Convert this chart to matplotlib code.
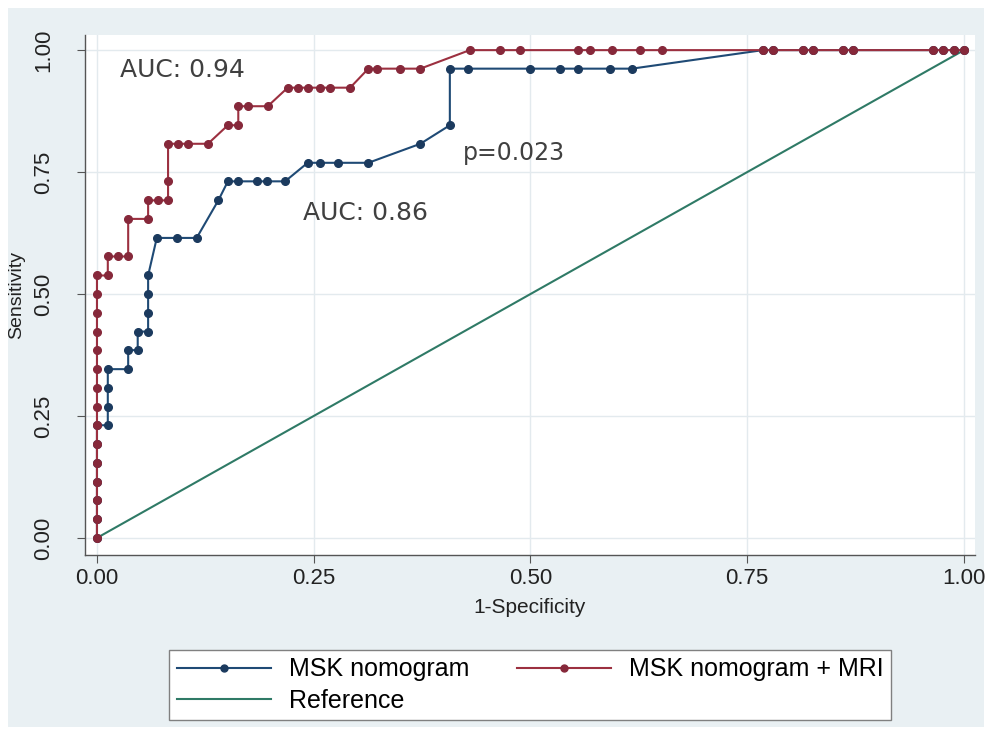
import numpy as np
import matplotlib
matplotlib.use('Agg')
import matplotlib.pyplot as plt
from matplotlib.lines import Line2D
from matplotlib.patches import Rectangle

# -------------------------------------------
# ROC points

fpr_msk = [0, 0, 0, 0, 0, 0, 0, 0.0125, 0.0125, 0.0125, 0.0125, 0.036, 0.036,
           0.047, 0.047, 0.059, 0.059, 0.059, 0.059, 0.069, 0.092, 0.115, 0.14,
           0.151, 0.163, 0.185, 0.196, 0.217, 0.243, 0.257, 0.278, 0.313, 0.373,
           0.407, 0.407, 0.428, 0.5, 0.534, 0.555, 0.592, 0.617, 0.768, 0.78,
           0.814, 0.826, 0.86, 0.872, 0.964, 0.976, 0.988, 1.0]
tpr_msk = [0, 0.038, 0.077, 0.115, 0.154, 0.192, 0.231, 0.231, 0.269, 0.308,
           0.346, 0.346, 0.385, 0.385, 0.423, 0.423, 0.462, 0.5, 0.538, 0.615,
           0.615, 0.615, 0.692, 0.731, 0.731, 0.731, 0.731, 0.731, 0.769, 0.769,
           0.769, 0.769, 0.808, 0.846, 0.962, 0.962, 0.962, 0.962, 0.962, 0.962,
           0.962, 1, 1, 1, 1, 1, 1, 1, 1, 1, 1]

fpr_mri = [0, 0, 0, 0, 0, 0, 0, 0, 0, 0, 0, 0, 0, 0, 0, 0.0125, 0.0125, 0.024,
           0.036, 0.036, 0.059, 0.059, 0.07, 0.082, 0.082, 0.082, 0.093, 0.105,
           0.128, 0.151, 0.163, 0.163, 0.174, 0.197, 0.22, 0.232, 0.243, 0.257,
           0.269, 0.292, 0.313, 0.323, 0.349, 0.373, 0.43, 0.465, 0.488, 0.555,
           0.569, 0.594, 0.626, 0.652, 0.768, 0.78, 0.814, 0.826, 0.86, 0.872,
           0.964, 0.976, 0.988, 1.0]
tpr_mri = [0, 0.038, 0.077, 0.115, 0.154, 0.192, 0.231, 0.269, 0.308, 0.346,
           0.385, 0.423, 0.462, 0.5, 0.538, 0.538, 0.577, 0.577, 0.577, 0.654,
           0.654, 0.692, 0.692, 0.692, 0.731, 0.808, 0.808, 0.808, 0.808, 0.846,
           0.846, 0.885, 0.885, 0.885, 0.923, 0.923, 0.923, 0.923, 0.923, 0.923,
           0.962, 0.962, 0.962, 0.962, 1, 1, 1, 1, 1, 1, 1, 1, 1, 1, 1, 1, 1, 1,
           1, 1, 1, 1]

ticks = [0, 0.25, 0.5, 0.75, 1.0]
tick_labels = ['0.00', '0.25', '0.50', '0.75', '1.00']

blue = '#1f4a75'
red = '#9c3040'
green = '#2f7a66'
bg = '#e9f0f3'

# -------------------------------------------

plt.rcParams['font.family'] = ['Liberation Sans', 'DejaVu Sans']

fig = plt.figure(figsize=(9.92, 7.35), dpi=100)
fig.patch.set_facecolor('white')
fig.patches.append(Rectangle((8/992, 8/735), 1-16/992, 1-16/735,
                             transform=fig.transFigure, facecolor=bg,
                             edgecolor='none', zorder=-10))

ax = fig.add_axes([85/992, 1-555/735, 890/992, 520/735])
ax.set_facecolor('white')
ax.set_xlim(-0.0138, 1.0127)
ax.set_ylim(-0.035, 1.031)

ax.grid(True, color='#e3eaee', linewidth=1.0)
ax.set_axisbelow(True)

ax.plot([0, 1], [0, 1], color=green, linewidth=1.5, zorder=2)
ax.plot(fpr_msk, tpr_msk, color=blue, linewidth=1.5, marker='o',
        markersize=5.5, markerfacecolor='#1b3a5e', markeredgecolor='#1b3a5e', zorder=3)
ax.plot(fpr_mri, tpr_mri, color=red, linewidth=1.5, marker='o',
        markersize=5.5, markerfacecolor='#86283a', markeredgecolor='#86283a', zorder=4)

ax.text(0.027, 0.96, 'AUC: 0.94', fontsize=18, color='#404040',
        family='DejaVu Sans', va='center', ha='left')
ax.text(0.238, 0.666, 'AUC: 0.86', fontsize=18, color='#404040',
        family='DejaVu Sans', va='center', ha='left')
ax.text(0.422, 0.79, 'p=0.023', fontsize=17, color='#404040',
        family='DejaVu Sans', va='center', ha='left')

for s in ['top', 'right']:
    ax.spines[s].set_visible(False)
for s in ['left', 'bottom']:
    ax.spines[s].set_color('#555555')
    ax.spines[s].set_linewidth(1.0)

ax.set_xticks(ticks)
ax.set_xticklabels(tick_labels, fontsize=16)
ax.set_yticks(ticks)
ax.set_yticklabels(tick_labels, fontsize=16, rotation=90, va='center')
ax.tick_params(direction='out', length=6, color='#555555', labelcolor='#222222')
ax.tick_params(axis='y', pad=16)
ax.set_xlabel('1-Specificity', fontsize=15, labelpad=6, color='#222222')
ax.set_ylabel('Sensitivity', fontsize=14, color='#222222', va='center')
ax.yaxis.set_label_coords((17 - 85) / 890, 0.5)

handles = [
    Line2D([], [], color=blue, linewidth=1.5, marker='o', markersize=5,
           markerfacecolor='#1b3a5e', markeredgecolor='#1b3a5e'),
    Line2D([], [], color=green, linewidth=1.5),
    Line2D([], [], color=red, linewidth=1.5, marker='o', markersize=5,
           markerfacecolor='#86283a', markeredgecolor='#86283a'),
]
labels = ['MSK nomogram', 'Reference', 'MSK nomogram + MRI']
leg = fig.legend(handles, labels, ncol=2, numpoints=1, fontsize=18,
                 loc='center', bbox_to_anchor=(530/992, 1-685/735),
                 handlelength=3.76, handletextpad=0.72, columnspacing=1.9,
                 labelspacing=0.3, borderpad=0.3, borderaxespad=0,
                 fancybox=False, edgecolor='#808080', framealpha=1)
leg.get_frame().set_linewidth(1.0)

fig.savefig('out.png', dpi=100, facecolor=fig.get_facecolor())
